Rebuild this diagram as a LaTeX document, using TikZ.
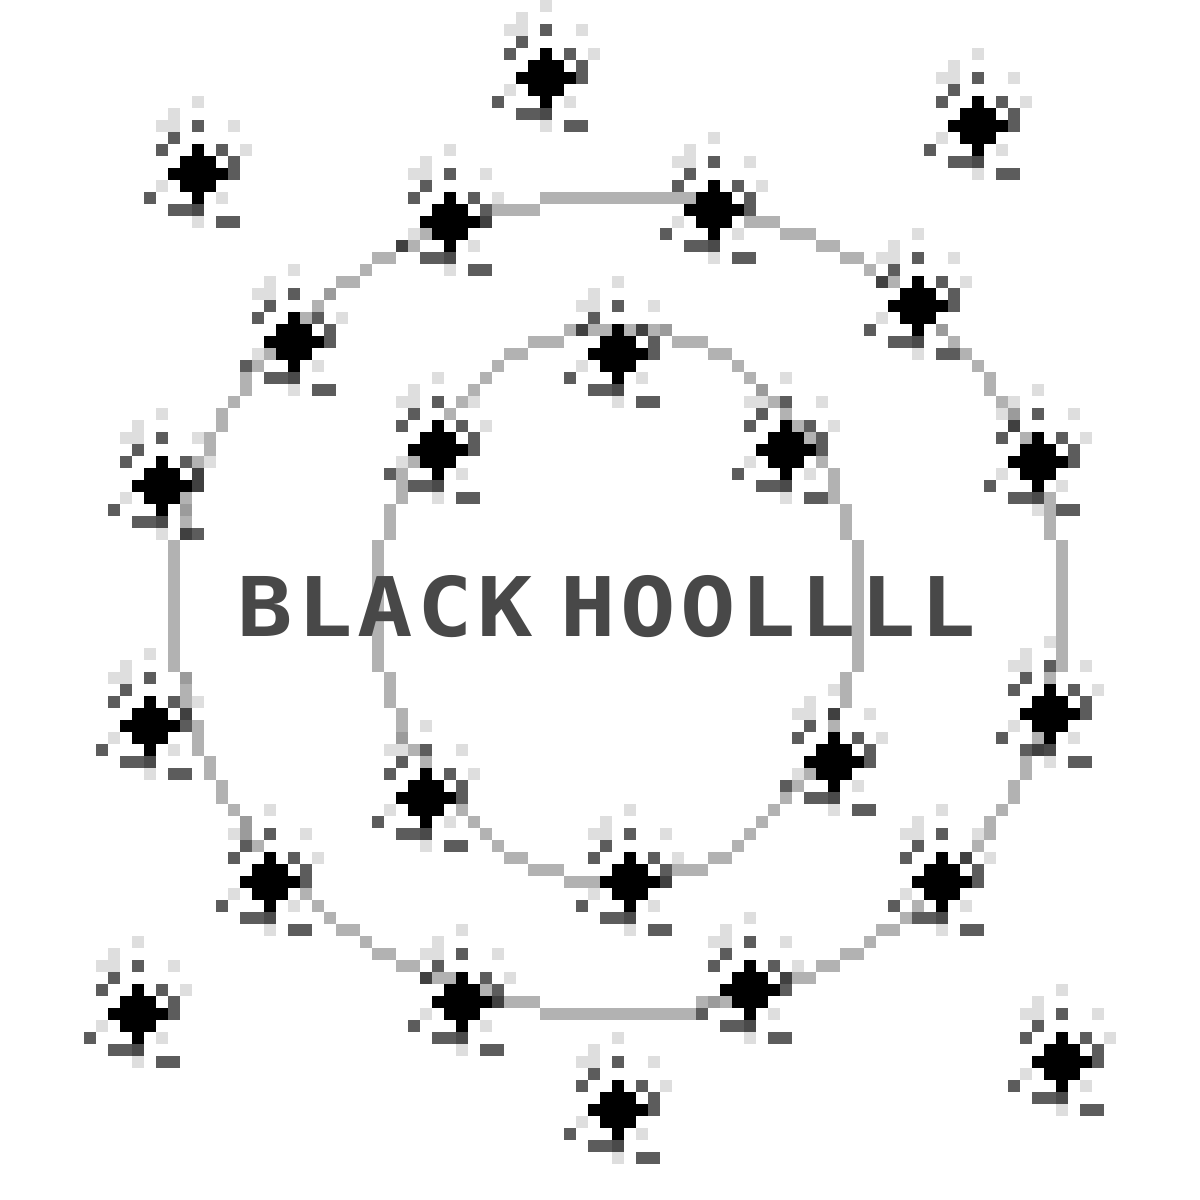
\documentclass[tikz,border=0pt]{standalone}
\usepackage{fontspec}
\newfontfamily\pixfont[FakeStretch=1.12,LetterSpace=5.5]{DejaVu Sans Mono}
\definecolor{textgrey}{HTML}{484848}
\tikzset{
  ringpx/.style={fill=black,fill opacity=.30},
  lightpx/.style={fill=black,fill opacity=.13},
  darkpx/.style={fill=black,fill opacity=.64},
  deeppx/.style={fill=black,fill opacity=.71},
  corepx/.style={fill=black},
  bannertext/.style={anchor=base west,inner sep=0pt,outer sep=0pt,text=textgrey,
    font=\pixfont\bfseries\fontsize{23.4pt}{23.4pt}\selectfont}
}
% one horizontal run of cells: row / first column / last column
\newcommand{\cellrun}[4]{\fill[#1] (#3,#2) rectangle (#4+1,#2+1);}
\newcommand{\sparkle}[2]{%
  \begin{scope}[shift={(#1,#2)}]
    \foreach \r/\a/\b in {-6/0/0,-5/-2/-2,-4/-3/-2,-4/3/3,-2/4/4,1/-3/-3,2/2/2,4/0/0}
      {\cellrun{lightpx}{\r}{\a}{\b}}
    \foreach \r/\a/\b in {-4/0/0,-3/-2/-2,-2/-3/-3,-2/2/2,-1/3/3,0/3/3,2/-4/-4,3/-2/-1,4/2/3}
      {\cellrun{darkpx}{\r}{\a}{\b}}
    \cellrun{deeppx}{3}{0}{0}
    \foreach \r/\a/\b in {-2/0/0,-1/-1/1,0/-2/2,1/-1/1,2/0/0}
      {\cellrun{corepx}{\r}{\a}{\b}}
  \end{scope}}
\begin{document}
\begin{tikzpicture}[x=0.12cm,y=-0.12cm]
\useasboundingbox (0,0) rectangle (100,100);
% outer ring
\foreach \r/\a/\b in {
  16/45/57,17/41/44,18/40/40,18/62/64,19/35/35,19/65/67,20/33/34,20/68/69,21/31/32,21/70/71,
  22/30/30,22/72/72,23/28/29,23/73/74,24/27/27,25/26/26,26/25/25,27/78/78,28/79/79,
  29/22/22,29/80/80,30/21/21,30/81/81,31/20/20,31/82/82,32/20/20,32/82/82,33/19/19,33/83/83,
  34/18/18,34/84/84,35/18/18,35/84/84,36/17/17,36/85/85,37/17/17,38/16/16,39/16/16,40/16/16,
  41/15/15,41/87/87,42/15/15,42/87/87,43/15/15,43/87/87,44/15/15,44/87/87,
  56/15/15,56/87/87,57/15/15,58/15/15,59/15/15,60/16/16,61/16/16,61/86/86,62/16/16,62/86/86,
  63/17/17,63/85/85,64/17/17,64/85/85,65/18/18,65/84/84,66/18/18,66/84/84,67/19/19,67/83/83,
  68/20/20,68/82/82,69/20/20,69/82/82,70/21/21,70/81/81,71/80/80,74/25/25,75/26/26,75/76/76,
  76/27/27,76/75/75,77/28/29,77/73/74,78/30/30,78/72/72,79/31/32,79/70/71,80/33/34,80/68/69,
  81/35/37,81/65/67,82/40/40,83/41/44,83/58/60,84/45/57}
  {\cellrun{ringpx}{\r}{\a}{\b}}
\fill[ringpx] (14,45) rectangle (15,56);
\fill[ringpx] (88,45) rectangle (89,56);
% inner ring
\foreach \r/\a/\b in {
  27/47/50,27/52/55,28/44/46,28/56/58,29/42/43,29/59/60,30/41/41,30/61/61,31/40/40,31/62/62,
  32/39/39,32/63/63,33/38/38,33/64/64,34/37/37,34/65/65,35/66/66,36/67/67,38/34/34,38/68/68,
  39/33/33,39/69/69,40/33/33,40/69/69,41/33/33,41/69/69,42/32/32,42/70/70,43/32/32,43/70/70,
  44/32/32,44/70/70,56/32/32,56/70/70,57/32/32,57/70/70,58/32/32,58/70/70,59/33/33,59/69/69,
  60/33/33,60/69/69,61/33/33,62/34/34,63/35/35,64/67/67,65/66/66,66/65/65,67/38/38,67/64/64,
  68/39/39,68/63/63,69/40/40,69/62/62,70/41/41,70/61/61,71/42/43,71/59/60,72/44/46,72/56/58,
  73/47/49,73/55/55}
  {\cellrun{ringpx}{\r}{\a}{\b}}
\fill[ringpx] (31,45) rectangle (32,56);
\fill[ringpx] (71,45) rectangle (72,56);
% sparkles, by the cell of their centre
\foreach \c/\r in {45/6,81/10,16/14,37/18,59/17,76/25,24/28,51/29,36/37,65/37,86/38,13/40,
  87/59,12/60,69/63,35/66,22/73,52/73,78/73,38/83,62/82,11/84,88/88,51/92}
  {\sparkle{\c}{\r}}
% banner
\node[bannertext] (bannerleft) at (19.8,53) {BLACK};
\node[bannertext] (bannerright) at (46.7,53) {HOOLLLL};
\end{tikzpicture}
\end{document}
